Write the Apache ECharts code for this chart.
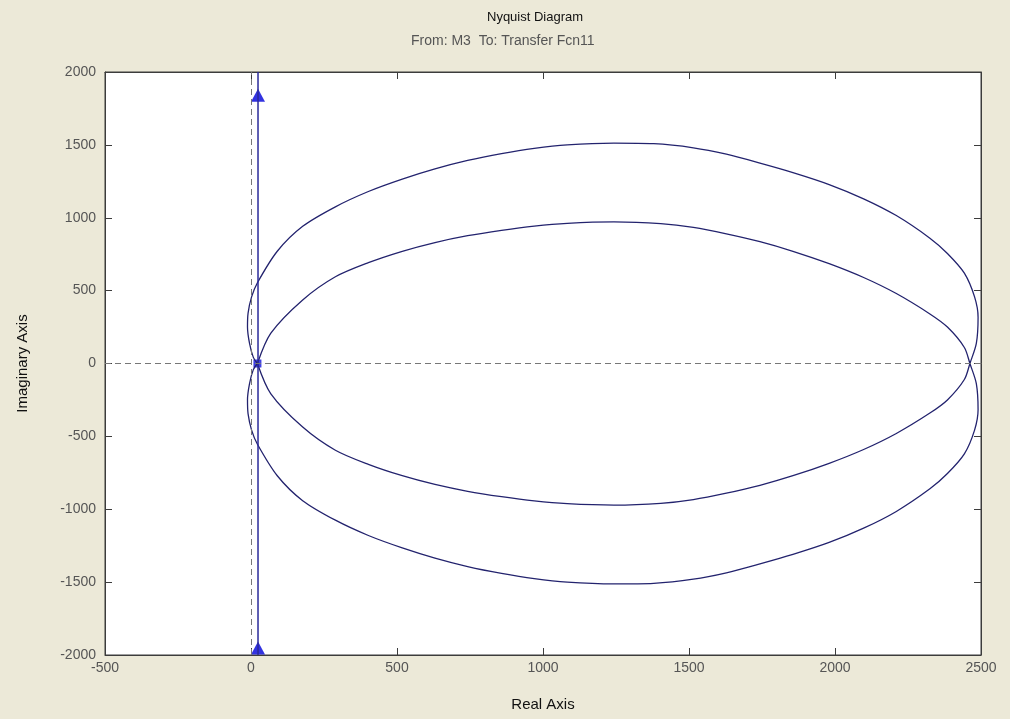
<!DOCTYPE html>
<html>
<head>
<meta charset="utf-8">
<script src="https://cdn.jsdelivr.net/npm/echarts@6/dist/echarts.min.js"></script>
<style>
html,body{margin:0;padding:0;background:#ece9d8;}
#chart{width:1010px;height:719px;}
</style>
</head>
<body>
<div id="chart"></div>
<script>
// Tick values
var xTicks = [-500, 0, 500, 1000, 1500, 2000, 2500];
var yTicks = [-2000, -1500, -1000, -500, 0, 500, 1000, 1500, 2000];

// Upper half of the outer loop (Real, Imag), from origin to the right crossing
var outerUpperX = [22, 8, -5, -12, -10, 2, 22, 90, 177, 289, 402, 518, 630, 742, 858, 970, 1083, 1243, 1379, 1515, 1628, 1743, 1856, 1980, 2098, 2210, 2325, 2385, 2443, 2478, 2490, 2484, 2462];
var outerUpperY = [0, 42, 138, 249, 346, 457, 554, 770, 941, 1075, 1180, 1265, 1335, 1393, 1440, 1476, 1500, 1512, 1508, 1480, 1436, 1375, 1310, 1228, 1130, 1015, 860, 755, 620, 457, 318, 138, 0];

// Upper half of the inner loop (Real, Imag), from origin to the right crossing
var innerUpperX = [22, 68, 177, 289, 402, 518, 630, 742, 858, 970, 1083, 1243, 1403, 1515, 1628, 1743, 1856, 1980, 2098, 2210, 2325, 2385, 2443, 2462];
var innerUpperY = [0, 208, 436, 595, 692, 770, 830, 877, 914, 943, 962, 972, 960, 934, 890, 836, 770, 685, 590, 480, 340, 250, 110, 0];

// Vertical branch and its arrows
var vertX = [24, 24];
var vertY = [-2000, 2000];
var arrowX = [24, 24];
var arrowY = [1841, -1952];
var markX = [22];
var markY = [0];

function pairs(xs, ys, sign) {
  var out = [];
  for (var i = 0; i < xs.length; i++) out.push([xs[i], sign * ys[i]]);
  return out;
}
// Branch A: origin -> inner top -> crossing -> outer bottom -> origin
var branchA = pairs(innerUpperX, innerUpperY, 1).concat(pairs(outerUpperX, outerUpperY, -1).reverse().slice(1));
// Branch B: mirror (negative frequencies)
var branchB = pairs(innerUpperX, innerUpperY, -1).concat(pairs(outerUpperX, outerUpperY, 1).reverse().slice(1));

var FONT = 'Liberation Sans, Arial, sans-serif';
var chart = echarts.init(document.getElementById('chart'), null, {renderer: 'canvas'});
var curveColor = '#23236e';
var fmt = function (v) { return String(v); };
var axisCommon = {
  axisLine: {show: true, onZero: false, lineStyle: {color: '#3c3c3c', width: 1}},
  axisTick: {show: true, inside: true, length: 7, lineStyle: {color: '#3c3c3c'}},
  splitLine: {show: false}
};
chart.setOption({
  backgroundColor: '#ece9d8',
  animation: false,
  graphic: [
    {type: 'text', left: 487, top: 11, style: {text: 'Nyquist Diagram', font: '13px ' + FONT, fill: '#111'}},
    {type: 'text', left: 411, top: 34, style: {text: 'From: M3  To: Transfer Fcn11', font: '14px ' + FONT, fill: '#555'}}
  ],
  grid: {left: 105, right: 29, top: 72, bottom: 64, show: true, backgroundColor: '#ffffff', borderColor: '#3c3c3c', borderWidth: 1},
  xAxis: [
    Object.assign({}, axisCommon, {
      type: 'value', min: xTicks[0], max: xTicks[xTicks.length - 1], interval: 500, position: 'bottom',
      name: 'Real Axis', nameLocation: 'middle', nameGap: 42,
      nameTextStyle: {fontFamily: FONT, fontSize: 15, color: '#111'},
      axisLabel: {fontFamily: FONT, fontSize: 14, color: '#555', margin: 6, formatter: fmt}
    }),
    Object.assign({}, axisCommon, {
      type: 'value', min: xTicks[0], max: xTicks[xTicks.length - 1], interval: 500, position: 'top',
      axisLabel: {show: false}
    })
  ],
  yAxis: [
    Object.assign({}, axisCommon, {
      type: 'value', min: yTicks[0], max: yTicks[yTicks.length - 1], interval: 500, position: 'left',
      name: 'Imaginary Axis', nameLocation: 'middle', nameGap: 75, nameRotate: 90,
      nameTextStyle: {fontFamily: FONT, fontSize: 15, color: '#111'},
      axisLabel: {fontFamily: FONT, fontSize: 14, color: '#555', margin: 9, formatter: fmt}
    }),
    Object.assign({}, axisCommon, {
      type: 'value', min: yTicks[0], max: yTicks[yTicks.length - 1], interval: 500, position: 'right',
      axisLabel: {show: false}
    })
  ],
  series: [
    {
      type: 'line', data: [], showSymbol: false, silent: true,
      markLine: {
        silent: true, symbol: 'none', label: {show: false},
        lineStyle: {color: '#777777', type: [6, 4], width: 1},
        data: [{xAxis: 0}, {yAxis: 0}]
      }
    },
    {type: 'line', data: branchA, showSymbol: false, smooth: 0.3, lineStyle: {color: curveColor, width: 1.3}, silent: true},
    {type: 'line', data: branchB, showSymbol: false, smooth: 0.3, lineStyle: {color: curveColor, width: 1.3}, silent: true},
    {type: 'line', data: pairs(vertX, vertY, 1), showSymbol: false, lineStyle: {color: '#2a2a9a', width: 1.5}, silent: true},
    {type: 'scatter', data: pairs(arrowX, arrowY, 1), symbol: 'triangle', symbolSize: [14, 13], itemStyle: {color: '#0000d8'}, silent: true},
    {type: 'scatter', data: pairs(markX, markY, 1), symbol: 'rect', symbolSize: 8, itemStyle: {color: '#2020e0', opacity: 0.85}, silent: true}
  ]
});
</script>
</body>
</html>
